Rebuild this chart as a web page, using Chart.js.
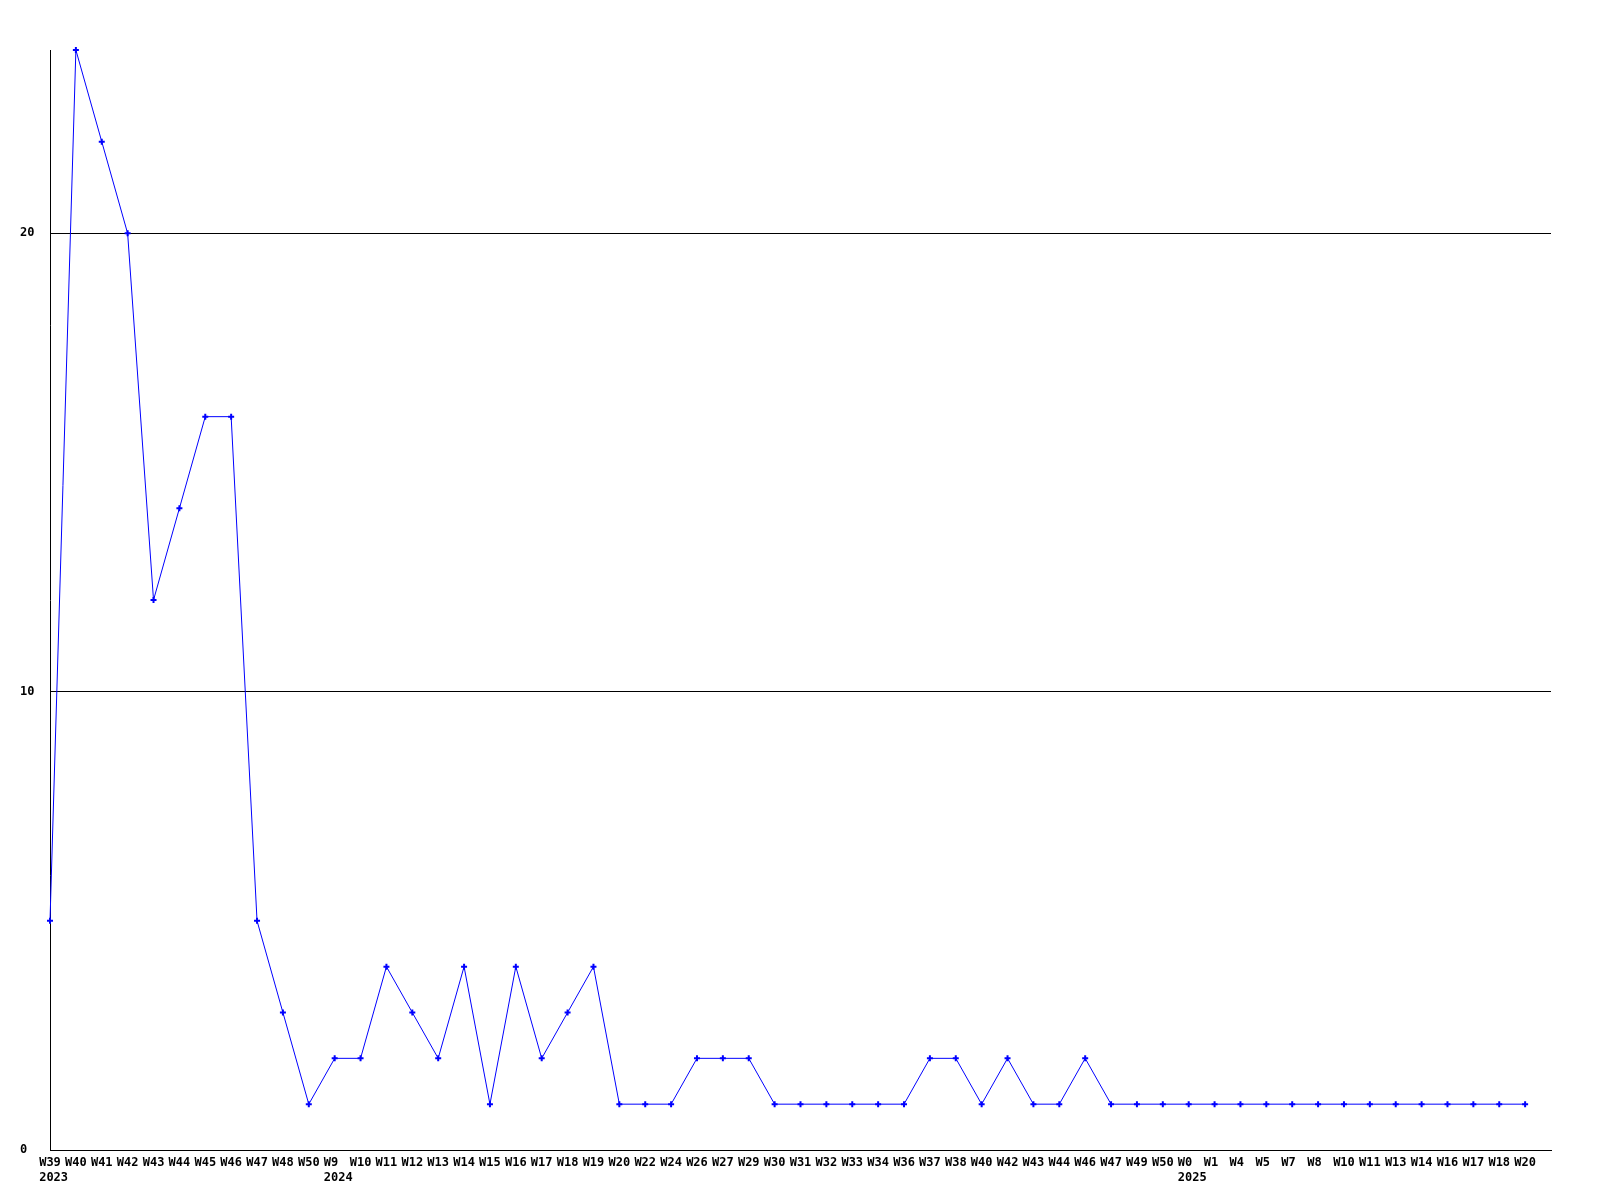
<!DOCTYPE html>
<html>
<head>
<meta charset="utf-8">
<script src="https://cdn.jsdelivr.net/npm/chart.js@4.4.1/dist/chart.umd.min.js"></script>
<style>
  html, body { margin: 0; padding: 0; background: #fff; }
  #myChart { display: block; }
</style>
</head>
<body>
<canvas id="myChart" width="1600" height="1200"></canvas>
<script>
const weeks = [
  "W39", "W40", "W41", "W42", "W43", "W44", "W45", "W46", "W47", "W48", "W50",
  "W9", "W10", "W11", "W12", "W13", "W14", "W15", "W16", "W17", "W18", "W19",
  "W20", "W22", "W24", "W26", "W27", "W29", "W30", "W31", "W32", "W33", "W34",
  "W36", "W37", "W38", "W40", "W42", "W43", "W44", "W46", "W47", "W49", "W50",
  "W0", "W1", "W4", "W5", "W7", "W8", "W10", "W11", "W13", "W14", "W16", "W17",
  "W18", "W20",
]
const counts = [
  5, 24, 22, 20, 12, 14, 16, 16, 5, 3, 1,
  2, 2, 4, 3, 2, 4, 1, 4, 2, 3, 4,
  1, 1, 1, 2, 2, 2, 1, 1, 1, 1, 1,
  1, 2, 2, 1, 2, 1, 1, 2, 1, 1, 1,
  1, 1, 1, 1, 1, 1, 1, 1, 1, 1, 1, 1,
  1, 1,
]
// index of the first week of each year
const yearStarts = [0, 11, 44]
const years = ["2023", "2024", "2025"]
const yTicks = [0, 10, 20]
const yMax = 24

const ctx = document.querySelector("#myChart")

function weekLabel(i) {
  const w = weeks[i].padEnd(3, " ")
  const y = yearStarts.indexOf(i)
  if (y >= 0) {
    // leading space keeps the year flush with the week text
    return [w, " " + years[y]]
  }
  return w
}

const points = counts.map((v, i) => ({ x: i, y: v }))
const font = { family: "'DejaVu Sans Mono', monospace", size: 12, weight: "bold" }

new Chart(ctx, {
  type: "line",
  data: {
    datasets: [
      {
        data: points,
        borderColor: "#0000ff",
        backgroundColor: "#0000ff",
        borderWidth: 1,
        tension: 0,
        pointStyle: "cross",
        pointRadius: 3,
        pointBorderWidth: 2,
        pointBorderColor: "#0000ff",
        clip: false,
      },
    ],
  },
  options: {
    responsive: false,
    animation: false,
    devicePixelRatio: 1,
    layout: {
      padding: { left: 20, top: 50, right: 49, bottom: 0 },
    },
    plugins: {
      legend: { display: false },
      tooltip: { enabled: false },
    },
    scales: {
      x: {
        type: "linear",
        min: 0,
        max: weeks.length,
        afterBuildTicks: (scale) => {
          scale.ticks = weeks.map((_, i) => ({ value: i }))
        },
        afterFit: (scale) => {
          scale.height = 50
        },
        grid: { display: false, drawTicks: false },
        border: { display: true, color: "#000", width: 1 },
        ticks: {
          autoSkip: false,
          maxRotation: 0,
          minRotation: 0,
          padding: 6,
          color: "#000",
          font: font,
          callback: (value) => weekLabel(value),
        },
      },
      y: {
        type: "linear",
        min: 0,
        max: yMax,
        afterBuildTicks: (scale) => {
          scale.ticks = yTicks.map((v) => ({ value: v }))
        },
        afterFit: (scale) => {
          scale.width = 30
        },
        grid: { color: "#000", lineWidth: 1, drawTicks: false },
        border: { display: true, color: "#000", width: 1 },
        ticks: {
          crossAlign: "far",
          padding: 0,
          color: "#000",
          font: font,
        },
      },
    },
  },
})
</script>
</body>
</html>
